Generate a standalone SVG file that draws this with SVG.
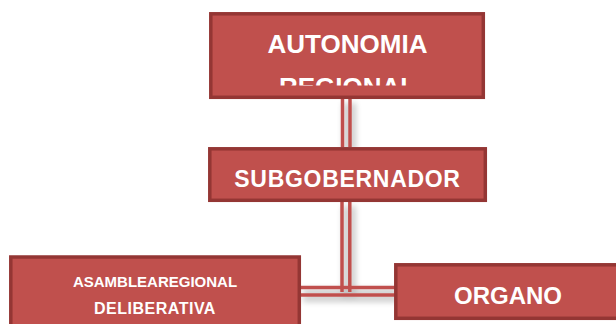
<svg xmlns="http://www.w3.org/2000/svg" width="616" height="324" viewBox="0 0 616 324">
<defs>
<style>
.box{fill:#C0504D;stroke:#943634;stroke-width:3.5}
.t{fill:#FFFFFF;font-family:"Liberation Sans",Arial,sans-serif;font-weight:bold;text-anchor:middle}
.ln{stroke:#C0504D;stroke-width:3.5;fill:none}
</style>
<filter id="sh" x="-50%" y="-50%" width="200%" height="200%">
<feGaussianBlur in="SourceAlpha" stdDeviation="3" result="b"/>
<feOffset dx="3" dy="4" result="o"/>
<feComponentTransfer in="o" result="s"><feFuncA type="linear" slope="0.35"/></feComponentTransfer>
<feMerge><feMergeNode in="s"/><feMergeNode in="SourceGraphic"/></feMerge>
</filter>
<clipPath id="c1"><rect x="212" y="15" width="270" height="70.5"/></clipPath>
</defs>
<rect width="616" height="324" fill="#FFFFFF"/>
<g id="connectors" filter="url(#sh)">
<line class="ln" x1="342.5" y1="99" x2="342.5" y2="147"/>
<line class="ln" x1="350" y1="99" x2="350" y2="147"/>
<line class="ln" x1="342" y1="202" x2="342" y2="292"/>
<line class="ln" x1="349.8" y1="202" x2="349.8" y2="292"/>
<line class="ln" x1="300" y1="287.5" x2="395" y2="287.5"/>
<line class="ln" x1="300" y1="295" x2="395" y2="295"/>
</g>
<g id="autonomia">
<rect class="box" x="210.8" y="13.8" width="272.5" height="83.5"/>
<g clip-path="url(#c1)">
<text class="t" x="347.5" y="53" font-size="26">AUTONOMIA</text>
<text class="t" x="347.5" y="96" font-size="26">REGIONAL</text>
</g>
</g>
<g id="subgobernador">
<rect class="box" x="209.8" y="148.8" width="275.5" height="51.5"/>
<text class="t" x="347.5" y="187" font-size="23" letter-spacing="0.7">SUBGOBERNADOR</text>
</g>
<g id="asamblea">
<rect class="box" x="10.8" y="257" width="288.5" height="80"/>
<text class="t" x="155" y="287" font-size="15">ASAMBLEAREGIONAL</text>
<text class="t" x="155" y="314" font-size="16" letter-spacing="0.5">DELIBERATIVA</text>
</g>
<g id="organo">
<rect class="box" x="395.8" y="264.8" width="230" height="53.5"/>
<text class="t" x="508" y="304" font-size="24">ORGANO</text>
</g>
</svg>
